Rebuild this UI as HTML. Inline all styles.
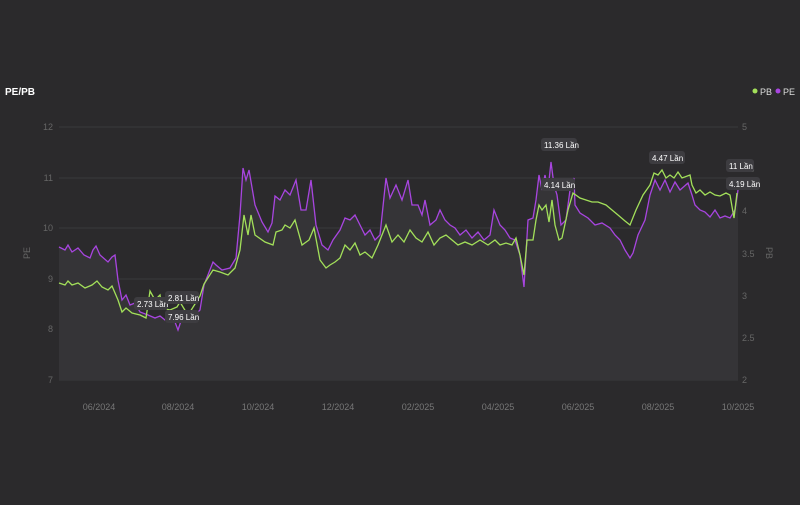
<!DOCTYPE html><html><head><style>
body{margin:0;background:#2b2a2c;width:800px;height:500px;overflow:hidden;font-family:"Liberation Sans",sans-serif}
</style></head><body>
<svg width="800" height="500" xmlns="http://www.w3.org/2000/svg" font-family="Liberation Sans, sans-serif">
<rect width="800" height="500" fill="#2b2a2c"/>
<text x="5" y="95" fill="#fff" font-size="10" font-weight="bold">PE/PB</text>
<circle cx="755" cy="91" r="2.5" fill="#a3e05a"/><text x="760" y="95" fill="#ddd" font-size="9">PB</text>
<circle cx="778" cy="91" r="2.5" fill="#a845e0"/><text x="783" y="95" fill="#ddd" font-size="9">PE</text>
<g stroke="#3a393c" stroke-width="1">
<line x1="59" x2="738" y1="127" y2="127"/><line x1="59" x2="738" y1="178" y2="178"/><line x1="59" x2="738" y1="228" y2="228"/><line x1="59" x2="738" y1="279" y2="279"/><line x1="59" x2="738" y1="329" y2="329"/><line x1="59" x2="738" y1="380" y2="380"/></g>
<g fill="#666" font-size="9" text-anchor="end">
<text x="53" y="130">12</text><text x="53" y="181">11</text><text x="53" y="231">10</text><text x="53" y="282">9</text><text x="53" y="332">8</text><text x="53" y="383">7</text></g>
<g fill="#666" font-size="9">
<text x="742" y="130">5</text><text x="742" y="172">4.5</text><text x="742" y="214">4</text><text x="742" y="257">3.5</text><text x="742" y="299">3</text><text x="742" y="341">2.5</text><text x="742" y="383">2</text></g>
<text transform="translate(30,253) rotate(-90)" fill="#666" font-size="9" text-anchor="middle">PE</text>
<text transform="translate(766,253) rotate(90)" fill="#666" font-size="9" text-anchor="middle">PB</text>
<g fill="#777" font-size="9" text-anchor="middle">
<text x="99" y="410">06/2024</text><text x="178" y="410">08/2024</text><text x="258" y="410">10/2024</text><text x="338" y="410">12/2024</text><text x="418" y="410">02/2025</text><text x="498" y="410">04/2025</text><text x="578" y="410">06/2025</text><text x="658" y="410">08/2025</text><text x="738" y="410">10/2025</text></g>
<polygon fill="#353437" points="59,247 65,250 68,245 72,252 78,248 84,255 90,258 93,250 96,246 100,255 108,262 112,257 115,255 118,280 122,300 126,295 130,305 135,303 140,312 148,315 155,318 160,316 165,320 170,315 175,322 178,330 182,318 188,320 195,315 200,310 204,285 213,262 216,265 222,270 230,268 236,258 240,215 243,168 246,180 249,170 255,205 262,222 268,232 272,223 275,196 280,200 285,190 290,195 296,180 301,210 306,210 311,180 316,225 322,245 328,250 333,240 340,230 345,218 350,220 355,215 360,225 365,235 370,230 375,240 380,235 386,178 390,198 396,185 402,200 408,180 412,205 418,205 422,215 425,200 430,225 436,220 440,210 445,220 450,225 455,228 460,235 466,230 472,238 478,232 484,240 490,235 494,210 500,225 505,230 510,238 515,240 520,255 524,287 528,220 533,218 536,200 539,175 542,190 545,175 548,190 551,162 554,185 557,195 561,225 566,220 570,190 574,178 575,205 580,213 588,218 595,225 602,223 610,228 615,235 620,240 625,250 630,258 633,253 638,235 645,220 650,195 655,180 660,190 665,180 670,192 675,182 680,190 688,183 692,195 695,205 700,210 705,212 710,217 715,210 720,218 725,216 730,218 735,210 738,190 738,380 59,380"/>
<polyline fill="none" stroke="#a845e0" stroke-width="1.3" points="59,247 65,250 68,245 72,252 78,248 84,255 90,258 93,250 96,246 100,255 108,262 112,257 115,255 118,280 122,300 126,295 130,305 135,303 140,312 148,315 155,318 160,316 165,320 170,315 175,322 178,330 182,318 188,320 195,315 200,310 204,285 213,262 216,265 222,270 230,268 236,258 240,215 243,168 246,180 249,170 255,205 262,222 268,232 272,223 275,196 280,200 285,190 290,195 296,180 301,210 306,210 311,180 316,225 322,245 328,250 333,240 340,230 345,218 350,220 355,215 360,225 365,235 370,230 375,240 380,235 386,178 390,198 396,185 402,200 408,180 412,205 418,205 422,215 425,200 430,225 436,220 440,210 445,220 450,225 455,228 460,235 466,230 472,238 478,232 484,240 490,235 494,210 500,225 505,230 510,238 515,240 520,255 524,287 528,220 533,218 536,200 539,175 542,190 545,175 548,190 551,162 554,185 557,195 561,225 566,220 570,190 574,178 575,205 580,213 588,218 595,225 602,223 610,228 615,235 620,240 625,250 630,258 633,253 638,235 645,220 650,195 655,180 660,190 665,180 670,192 675,182 680,190 688,183 692,195 695,205 700,210 705,212 710,217 715,210 720,218 725,216 730,218 735,210 738,190"/>
<polyline fill="none" stroke="#a3e05a" stroke-width="1.3" points="59,283 65,285 68,281 72,285 78,283 85,288 92,285 97,281 102,287 108,290 112,286 118,300 122,312 126,308 132,313 140,315 146,318 150,291 155,300 160,295 162,308 170,310 177,307 180,302 186,312 190,312 195,304 200,296 204,284 213,270 220,272 228,275 235,268 240,250 244,215 248,235 251,215 255,235 265,242 273,245 276,232 282,230 285,225 290,228 295,220 302,245 309,240 314,228 320,260 326,268 330,265 335,262 340,258 345,245 350,250 355,243 360,255 365,252 372,258 378,245 386,225 392,242 398,235 404,242 410,230 416,238 422,242 428,232 434,245 440,238 446,235 452,240 458,245 465,242 472,245 480,240 488,245 495,240 500,245 506,243 512,245 516,238 520,255 524,275 527,240 533,240 536,220 539,205 542,210 546,205 549,222 552,200 555,225 559,240 562,238 568,210 573,193 580,198 586,200 592,202 598,202 606,205 612,210 618,215 625,221 630,225 636,210 643,195 650,185 654,173 658,175 662,170 666,178 670,175 674,178 678,172 682,178 690,175 692,185 696,193 700,190 705,195 710,192 715,195 720,196 726,193 730,195 734,218 737,193"/>
<g font-size="8" fill="#fff">
<rect x="134" y="297" width="34" height="13" rx="3" fill="#3d3c40"/><text x="137" y="307">2.73 Lần</text>
<rect x="165" y="291" width="34" height="13" rx="3" fill="#3d3c40"/><text x="168" y="301">2.81 Lần</text>
<rect x="165" y="310" width="34" height="13" rx="3" fill="#3d3c40"/><text x="168" y="320">7.96 Lần</text>
<rect x="541" y="138" width="36" height="13" rx="3" fill="#3d3c40"/><text x="544" y="148">11.36 Lần</text>
<rect x="541" y="178" width="34" height="13" rx="3" fill="#3d3c40"/><text x="544" y="188">4.14 Lần</text>
<rect x="649" y="151" width="36" height="13" rx="3" fill="#3d3c40"/><text x="652" y="161">4.47 Lần</text>
<rect x="726" y="159" width="28" height="13" rx="3" fill="#3d3c40"/><text x="729" y="169">11 Lần</text>
<rect x="726" y="177" width="34" height="13" rx="3" fill="#3d3c40"/><text x="729" y="187">4.19 Lần</text>
</g>
</svg></body></html>
